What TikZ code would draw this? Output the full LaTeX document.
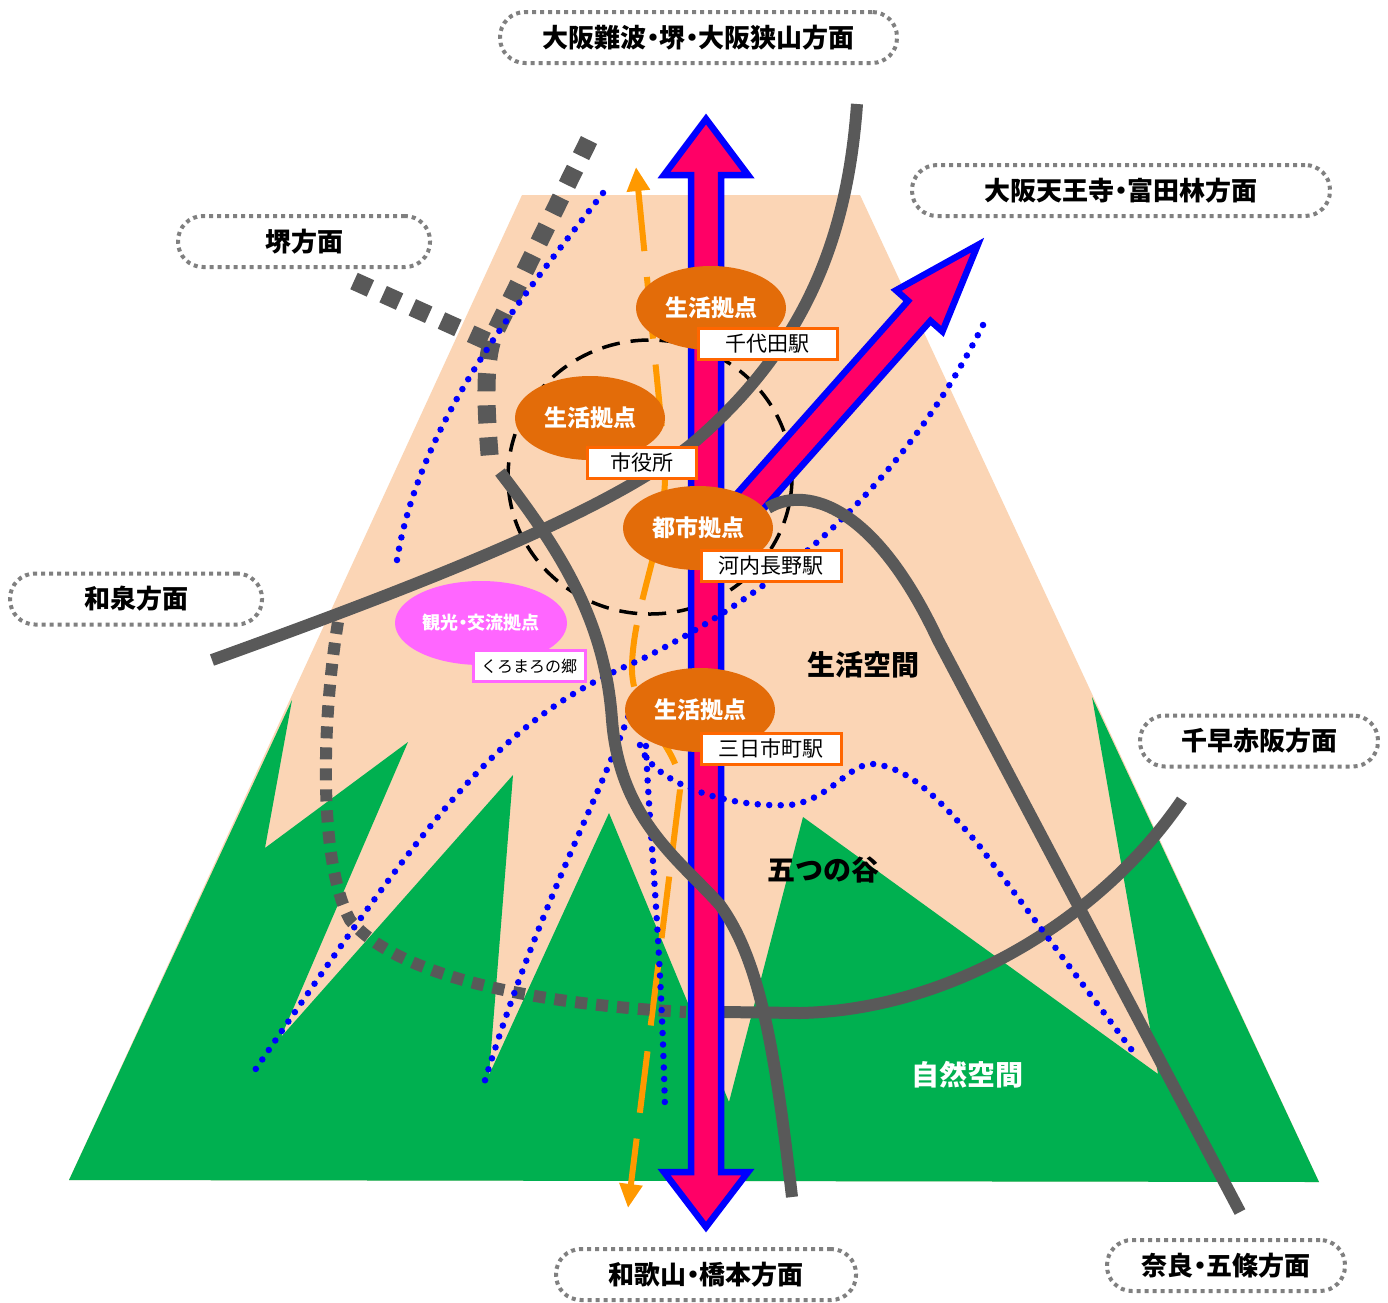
\documentclass[tikz,border=0pt]{standalone}
\usepackage{fontspec}
\newfontfamily\jp{Noto Sans CJK JP}
\usetikzlibrary{calc, arrows.meta, shapes.geometric, positioning}
\definecolor{cpeach}{HTML}{FBD5B5}
\definecolor{cgreen}{HTML}{00B050}
\definecolor{chub}{HTML}{E36C09}
\definecolor{cstn}{HTML}{FF6600}
\definecolor{corg}{HTML}{FF9900}
\definecolor{crose}{HTML}{FF0066}
\definecolor{cblue}{HTML}{0000FF}
\definecolor{croad}{HTML}{595959}
\definecolor{cdir}{HTML}{808080}
\definecolor{cpink}{HTML}{FF66FF}
\newcommand{\nk}{\makebox[0.5em]{・}}

\tikzset{
  dirbox/.style={draw=cdir, line width=4pt, dash pattern=on 4pt off 4pt, rounded corners=25pt, fill=white,
    minimum height=51pt, inner sep=0pt, font=\jp\bfseries\fontsize{26}{30}\selectfont},
  hub/.style={ellipse, fill=chub, minimum width=150pt, minimum height=84pt, inner sep=0pt, text=white,
    font=\jp\bfseries\fontsize{23}{26}\selectfont},
  stn/.style={draw=cstn, line width=3pt, fill=white, minimum height=31pt, inner sep=0pt,
    font=\jp\fontsize{21}{24}\selectfont},
  road/.style={croad, line width=12pt},
  rail/.style={cblue, line width=6.5pt, line cap=round, dash pattern=on 0pt off 11.5pt},
  bigarrow/.style={draw=cblue, fill=crose, line width=6.5pt},
  zonetext/.style={font=\jp\bfseries\fontsize{28}{32}\selectfont},
}

\begin{document}
\begin{tikzpicture}[x=1pt, y=-1pt]
    \fill[white] (0,0) rectangle (1388,1302);
    \useasboundingbox (0,0) rectangle (1388,1302);
    \fill[cpeach] (522,195) -- (860,195) -- (1319,1182) -- (69,1180) -- cycle;
    \fill[cgreen] (69,1180) -- (292,700) -- (265,848) -- (408,742) -- (281,1037) -- (513,775) -- (489,1075)
        -- (609,813) -- (729,1102) -- (803,817) -- (1158,1074) -- (1092,697) -- (1319,1182) -- cycle;
    \draw[black, line width=3.5pt, dash pattern=on 18pt off 11pt] (650,477) circle[x radius=142, y radius=137];
    \draw[corg, line width=6pt, dash pattern=on 62pt off 26pt, {Triangle[width=22pt,length=24pt]}-{Triangle[width=22pt,length=24pt]}]
        (636,167) -- (665,460) .. controls (668,540) and (634,600) .. (632,665)
        .. controls (630,720) and (682,745) .. (680,790) -- (628,1208);
    \draw[croad, line width=18pt, dash pattern=on 18pt off 14pt] (589,140) -- (496,330) .. controls (484,356) and (485,400) .. (490,460);
    \draw[croad, line width=18pt, dash pattern=on 18pt off 14pt] (354,281) -- (489,342);
    \draw[croad, line width=12pt, dash pattern=on 12pt off 9pt] (338,622) .. controls (322,720) and (318,860) .. (350,920)
        .. controls (400,980) and (550,1005) .. (686,1012);
    \draw[road] (723,1012) -- (800,1013) .. controls (950,1010) and (1100,920) .. (1182,800);
    \draw[bigarrow] (706,119) -- (748,175) -- (721,175) -- (721,1172) -- (748,1172) -- (706,1227)
        -- (664,1172) -- (691,1172) -- (691,175) -- (664,175) -- cycle;
    \draw[bigarrow, shift={(738,515)}, rotate=-41.6] (0,-361) -- (31,-273) -- (15,-273) -- (15,0)
        -- (-15,0) -- (-15,-273) -- (-31,-273) -- cycle;
    \draw[rail] (603,193) .. controls (520,300) and (420,420) .. (397,560);
    \draw[rail] (983,325) .. controls (910,470) and (800,580) .. (640,660) .. controls (500,720) and (440,800) .. (253,1073);
    \draw[rail] (636,695) .. controls (600,800) and (540,900) .. (482,1090);
    \draw[rail] (645,700) .. controls (645,800) and (660,900) .. (665,1110);
    \draw[rail] (640,745) .. controls (650,780) and (720,808) .. (790,805) .. controls (830,800) and (850,762) .. (874,764)
        .. controls (910,768) and (940,800) .. (978,844) -- (1134,1053);
    \draw[road] (857,104) .. controls (848,230) and (810,340) .. (700,437) .. controls (620,508) and (420,585) .. (212,660);
    \draw[road] (500,472) .. controls (560,550) and (605,620) .. (612,720) .. controls (620,820) and (680,860) .. (720,905)
        .. controls (760,960) and (775,1050) .. (792,1197);
    \draw[road] (768,508) .. controls (800,488) and (870,495) .. (938,640) -- (1240,1212);
    \begin{scope}[every node/.style={hub}]
        \node (h1) at (711,308) {生活拠点};
        \node (h2) at (590,418) {生活拠点};
        \node (h3) at (698,528) {都市拠点};
        \node (h4) at (700,710) {生活拠点};
        \node (h5) [fill=cpink, minimum width=172pt, font=\jp\bfseries\fontsize{18}{20}\selectfont] at (481,623) {観光\nk 交流拠点};
    \end{scope}
    \node[stn, minimum width=139pt] (s1) at (767.5,343.5) {千代田駅};
    \node[stn, minimum width=109pt] (s2) at (641.5,462.5) {市役所};
    \node[stn, minimum width=140pt] (s3) at (771,566) {河内長野駅};
    \node[stn, minimum width=140pt] (s4) at (771,748.5) {三日市町駅};
    \node[stn, draw=cpink, minimum width=112pt, font=\jp\fontsize{16}{18}\selectfont] (s5) at (529,666) {くろまろの郷};
    \node[zonetext] (z1) at (863,665) {生活空間};
    \node[zonetext] (z2) at (823,870) {五つの谷};
    \node[zonetext, text=white] (z3) at (967,1075) {自然空間};
    \node[dirbox, minimum width=397pt] (d1) at (698.5,37.5) {大阪難波\nk 堺\nk 大阪狭山方面};
    \node[dirbox, minimum width=418pt] (d2) at (1121,190.5) {大阪天王寺\nk 富田林方面};
    \node[dirbox, minimum width=252pt] (d3) at (304,241.5) {堺方面};
    \node[dirbox, minimum width=252pt] (d4) at (136,599) {和泉方面};
    \node[dirbox, minimum width=238pt] (d5) at (1259,741) {千早赤阪方面};
    \node[dirbox, minimum width=300pt] (d6) at (706,1274.5) {和歌山\nk 橋本方面};
    \node[dirbox, minimum width=238pt] (d7) at (1226,1265.5) {奈良\nk 五條方面};
\end{tikzpicture}
\end{document}
